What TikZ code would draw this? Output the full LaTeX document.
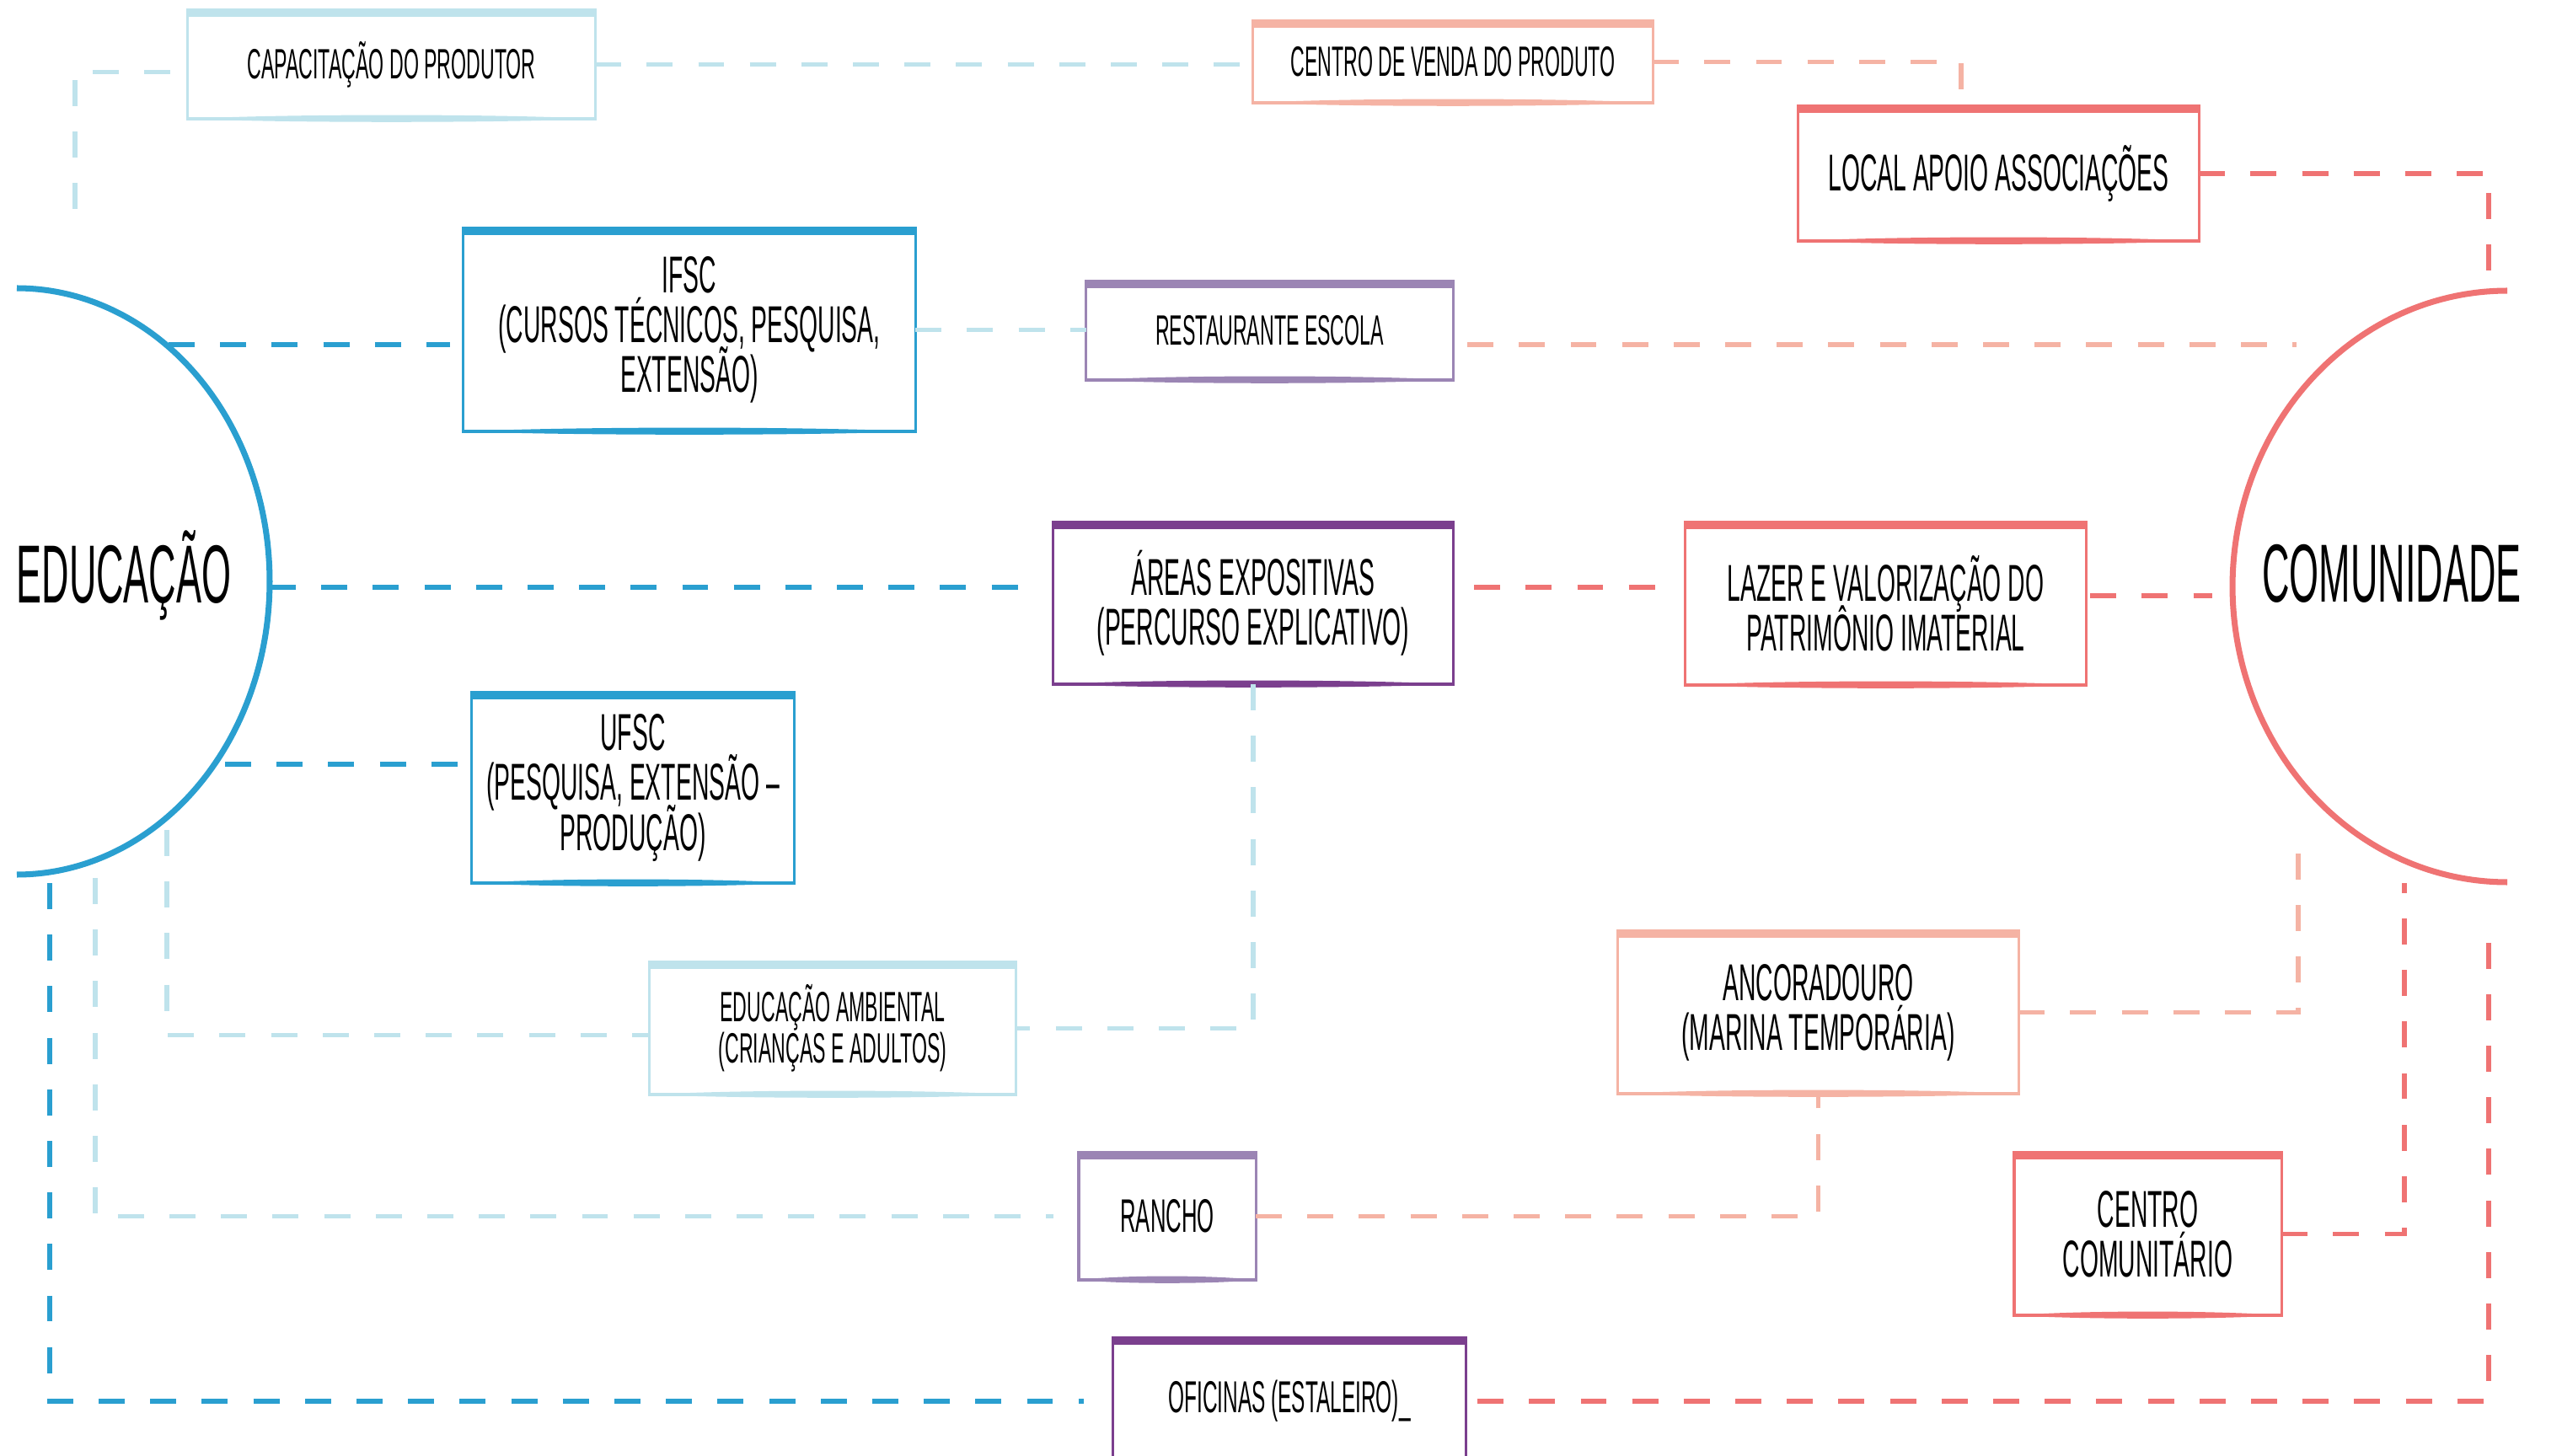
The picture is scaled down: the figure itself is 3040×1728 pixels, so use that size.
\documentclass[tikz,border=0pt]{standalone}
\usepackage{fontspec}
\setmainfont{Liberation Sans}[FakeStretch=0.46]
\usetikzlibrary{calc}
\definecolor{eblue}{HTML}{2A9FD0}
\definecolor{lblue}{HTML}{BFE3EC}
\definecolor{coral}{HTML}{EF7373}
\definecolor{salmon}{HTML}{F5B3A4}
\definecolor{dpurple}{HTML}{7B3F8E}
\definecolor{lav}{HTML}{9B85B4}
\newcommand\tightlns{\lineskiplimit=-20pt\relax\lineskip=0pt\relax}
\tikzset{
  bx/.style={draw=#1, line width=0.9pt, inner sep=0pt, outer sep=0pt, align=center, text=black},
  fs/.style={font=\fontsize{14.3pt}{13.8pt}\selectfont\tightlns},
  fm/.style={font=\fontsize{15.9pt}{15pt}\selectfont\tightlns},
  fl/.style={font=\fontsize{17.5pt}{16.8pt}\selectfont\tightlns},
  fx/.style={font=\fontsize{27.8pt}{28pt}\selectfont},
  ln/.style={line width=1.45pt, dash pattern=on 8.8pt off 8.6pt},
  arcline/.style={line width=2pt},
}
\begin{document}
\begin{tikzpicture}[x=0.01cm, y=-0.01cm]
\useasboundingbox (0,0) rectangle (3040,1728);
\clip (0,0) rectangle (3040,1728);
% boxes
\node[bx=lblue, fs, minimum width=4.83cm, minimum height=1.29cm] (cap) at (464.5,76.5) {CAPACITAÇÃO DO PRODUTOR};
\node[bx=salmon, fs, minimum width=4.74cm, minimum height=0.97cm] (venda) at (1724,73.5) {CENTRO DE VENDA DO PRODUTO};
\node[bx=coral, fl, minimum width=4.75cm, minimum height=1.60cm] (local) at (2371.5,206) {LOCAL APOIO ASSOCIAÇÕES};
\node[bx=eblue, fl, minimum width=5.36cm, minimum height=2.41cm] (ifsc) at (818,391.5) {IFSC\\(CURSOS TÉCNICOS, PESQUISA,\\EXTENSÃO)};
\node[bx=lav, fs, minimum width=4.35cm, minimum height=1.17cm] (rest) at (1506.5,392.5) {RESTAURANTE ESCOLA};
\node[bx=dpurple, fl, minimum width=4.74cm, minimum height=1.92cm] (areas) at (1487,716) {ÁREAS EXPOSITIVAS\\(PERCURSO EXPLICATIVO)};
\node[bx=coral, fl, minimum width=4.75cm, minimum height=1.93cm] (lazer) at (2237.5,716.5) {LAZER E VALORIZAÇÃO DO\\PATRIMÔNIO IMATERIAL};
\node[bx=eblue, fl, minimum width=3.82cm, minimum height=2.26cm] (ufsc) at (751,935) {UFSC\\(PESQUISA, EXTENSÃO –\\PRODUÇÃO)};
\node[bx=lblue, fs, minimum width=4.34cm, minimum height=1.57cm] (ea) at (988,1220.5) {EDUCAÇÃO AMBIENTAL\\(CRIANÇAS E ADULTOS)};
\node[bx=salmon, fl, minimum width=4.75cm, minimum height=1.93cm] (anc) at (2157.5,1201.5) {ANCORADOURO\\(MARINA TEMPORÁRIA)};
\node[bx=lav, fm, minimum width=2.10cm, minimum height=1.51cm] (rancho) at (1385,1443.5) {RANCHO};
\node[bx=coral, fl, minimum width=3.17cm, minimum height=1.93cm] (cc) at (2548.5,1464.5) {CENTRO\\COMUNITÁRIO};
\node[bx=dpurple, font=\fontsize{15.1pt}{15.4pt}\selectfont, minimum width=4.18cm, minimum height=1.50cm] (ofi) at (1530,1663) {OFICINAS (ESTALEIRO)\_};
% brush-like top and bottom edges
\foreach \n/\c in {cap/lblue, venda/salmon, local/coral, ifsc/eblue, rest/lav, areas/dpurple, lazer/coral, ufsc/eblue, ea/lblue, anc/salmon, rancho/lav, cc/coral, ofi/dpurple}{
  \fill[\c] (\n.north west) rectangle ($(\n.north east)+(0,8)$);
  \fill[\c] (\n.south west) .. controls ($(\n.south west)!0.25!(\n.south east)+(0,-6)$) and ($(\n.south west)!0.75!(\n.south east)+(0,-6)$) .. (\n.south east)
     .. controls ($(\n.south west)!0.75!(\n.south east)+(0,5)$) and ($(\n.south west)!0.25!(\n.south east)+(0,5)$) .. (\n.south west) -- cycle;
}
% half ellipses
\draw[eblue, arcline] plot[domain=-90:90, samples=80, smooth] ({20+300*cos(\x)}, {690+348*sin(\x)});
\draw[coral, arcline] plot[domain=-90:90, samples=80, smooth] ({2975-326*cos(\x)}, {696+351*sin(\x)});
\node[fx] (edu) at (147,683) {EDUCAÇÃO};
\node[fx] (com) at (2838,681) {COMUNIDADE};
% free ends
\coordinate (c1) at (89,248);
\coordinate (c2) at (2327,112);
\coordinate (c3) at (2953,346);
\coordinate (c4) at (200,409);
\coordinate (c5) at (2725,409);
\coordinate (c6) at (320,697);
\coordinate (c8) at (2625,707);
\coordinate (c9) at (267,907);
\coordinate (c10) at (198,985);
\coordinate (c11) at (113,1042);
\coordinate (c12) at (59,1048);
\coordinate (c13) at (2727,987);
\coordinate (c14) at (2853,1048);
\coordinate (c15) at (2953,1109);
% connectors
\draw[ln, lblue] (c1) |- ($(cap.west)+(0,9)$);
\draw[ln, lblue] (cap.east) -- (cap.east -| venda.west);
\draw[ln, salmon] (venda.east) -| (c2);
\draw[ln, coral] (local.east) -| (c3);
\draw[ln, eblue] (c4) -- ($(c4 -| ifsc.west)+(-16,0)$);
\draw[ln, lblue] (ifsc.east) -- (ifsc.east -| rest.west);
\draw[ln, salmon] ($(rest.east |- c5)+(17,0)$) -- (c5);
\draw[ln, eblue] (c6) -- ($(c6 -| areas.west)+(-40,0)$);
\draw[ln, coral] ($(areas.east |- c6)+(25,0)$) -- ($(lazer.west |- c6)+(-20,0)$);
\draw[ln, coral] ($(lazer.east |- c8)+(5,0)$) -- (c8);
\draw[ln, eblue] (c9) -- ($(c9 -| ufsc.west)+(-8,0)$);
\draw[ln, lblue] (areas.south) |- (ea.east);
\draw[ln, lblue] (c10) |- ($(ea.west)+(0,8)$);
\draw[ln, lblue] (c11) |- ($(rancho.west)+(-30,0)$);
\draw[ln, eblue] (c12) |- ($(ofi.west)+(-35,0)$);
\draw[ln, salmon] (rancho.east) -| (anc.south);
\draw[ln, salmon] (anc.east) -| (c13);
\draw[ln, coral] (cc.east) -| (c14);
\draw[ln, coral] ($(ofi.east)+(14,0)$) -| (c15);
\end{tikzpicture}
\end{document}
